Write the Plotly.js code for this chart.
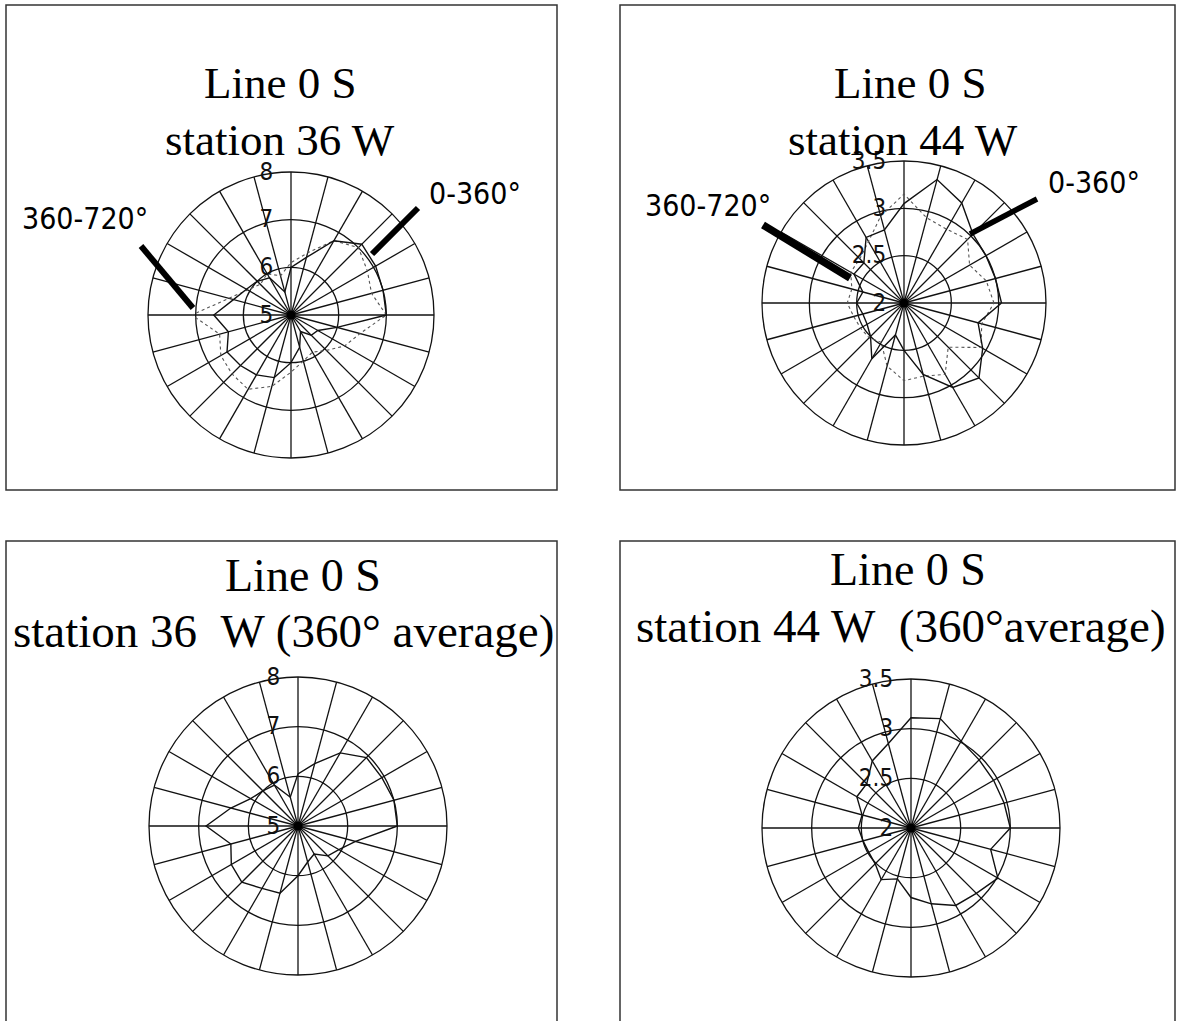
<!DOCTYPE html>
<html>
<head>
<meta charset="utf-8">
<script src="https://cdn.plot.ly/plotly-3.0.1.min.js"></script>
<style>html,body{margin:0;padding:0;background:#fff;}#chart{width:1177px;height:1021px;}</style>
</head>
<body>
<div id="chart"></div>
<script>
// ---------- data ----------
const theta = [0,15,30,45,60,75,90,105,120,135,150,165,180,195,210,225,240,255,270,285,300,315,330,345];

// station 36 W
const st36_0_360   = [7.0,7.0,7.05,7.1,6.8,6.25,6.0,5.5,5.9,6.0,6.08,6.25,6.62,6.36,6.55,6.5,6.45,6.36,6.0,5.7,5.4,5.6,5.65,6.0];
const st36_360_720 = [7.0,6.75,6.85,7.0,6.8,6.35,6.1,5.85,6.0,5.91,6.05,6.35,7.08,6.55,6.7,6.75,6.8,6.55,6.2,6.0,5.9,6.05,6.3,6.5];
const st36_avg     = [7.0,7.0,6.95,6.95,6.7,6.3,6.05,5.6,5.95,6.0,6.1,6.4,6.85,6.4,6.55,6.6,6.45,6.4,6.0,5.75,5.65,5.85,5.95,6.2];

// station 44 W
const st44_0_360   = [3.03,3.0,3.0,3.03,3.22,3.35,3.05,2.8,2.8,2.6,2.61,2.45,2.5,2.45,2.45,2.5,2.68,2.35,2.5,2.78,3.03,3.12,2.96,2.81];
const st44_360_720 = [2.95,2.9,2.8,2.95,2.9,2.93,3.15,2.95,2.75,2.66,2.65,2.57,2.6,2.55,2.53,2.52,2.48,2.69,2.82,2.8,2.87,2.66,2.94,2.85];
const st44_avg     = [3.0,2.97,2.96,2.97,3.01,3.14,3.11,2.88,2.78,2.63,2.63,2.51,2.53,2.5,2.49,2.51,2.6,2.53,2.7,2.79,2.9,2.93,3.01,2.83];

// radial axes
const range36 = [5, 8];
const ticks36 = [5, 6, 7, 8];
const range44 = [2, 3.5];
const ticks44 = [2, 2.5, 3, 3.5];

// text
const titleLine1 = "Line 0 S";
const titles = [
  "station 36 W",
  "station 44 W",
  "station 36\u00a0\u00a0W (360\u00b0 average)",
  "station 44 W\u00a0\u00a0(360\u00b0average)"
];
const seriesLabels = ["0-360\u00b0", "360-720\u00b0"];

// ---------- layout helpers ----------
const W = 1177, H = 1021;
const px = x => x / W;
const py = y => 1 - y / H;
function dom(cx, cy, R) {
  return { x: [px(cx - R), px(cx + R)], y: [py(cy + R), py(cy - R)] };
}
const SANS = "Liberation Sans Narrow, DejaVu Sans Condensed, Arial Narrow, sans-serif";
const SERIF = "Liberation Serif, Times New Roman, serif";

function polarLayout(d, range, ticks) {
  return {
    domain: d,
    bgcolor: "rgba(0,0,0,0)",
    gridshape: "linear",
    angularaxis: {
      rotation: 0, direction: "counterclockwise",
      tickmode: "array", tickvals: theta, showticklabels: false, ticks: "",
      showgrid: true, gridcolor: "#111", gridwidth: 1.3,
      showline: true, linecolor: "#111", linewidth: 1.3
    },
    radialaxis: {
      range: range, tickmode: "array", tickvals: ticks,
      // trailing spaces push the centred label to the left of the axis
      ticktext: ticks.map(v => String(v) + "\u00a0\u00a0"),
      angle: 90, side: "counterclockwise", ticks: "", tickangle: 90,
      showgrid: true, gridcolor: "#111", gridwidth: 1.3,
      showline: false,
      tickfont: { family: SANS, size: 24, color: "#111" }
    }
  };
}

const closeR = a => a.concat([a[0]]);
const closeT = theta.concat([theta[0] + 360]);

const traces = [];
function addLine(r, sub, dash, color, width) {
  traces.push({
    type: "scatterpolar", subplot: sub, mode: "lines",
    r: closeR(r), theta: closeT,
    line: { color: color, width: width, dash: dash },
    hoverinfo: "skip"
  });
}
function addCenter(range, sub) {
  traces.push({
    type: "scatterpolar", subplot: sub, mode: "markers",
    r: [range[0]], theta: [0],
    marker: { color: "#000", size: 9 }, hoverinfo: "skip"
  });
}

addLine(st36_360_720, "polar", "dot", "#555", 1.1);
addLine(st36_0_360, "polar", "solid", "#111", 1.4);
addCenter(range36, "polar");
addLine(st44_360_720, "polar2", "dot", "#555", 1.1);
addLine(st44_0_360, "polar2", "solid", "#111", 1.4);
addCenter(range44, "polar2");
addLine(st36_avg, "polar3", "solid", "#111", 1.4);
addCenter(range36, "polar3");
addLine(st44_avg, "polar4", "solid", "#111", 1.4);
addCenter(range44, "polar4");

// panel frames
const frameLine = { color: "#333", width: 1.5 };
const shapes = [
  { type: "rect", xref: "paper", yref: "paper", x0: px(6), x1: px(557), y0: py(5), y1: py(490), line: frameLine },
  { type: "rect", xref: "paper", yref: "paper", x0: px(620), x1: px(1175), y0: py(5), y1: py(490), line: frameLine },
  { type: "rect", xref: "paper", yref: "paper", x0: px(6), x1: px(557), y0: py(541), y1: py(1040), line: frameLine },
  { type: "rect", xref: "paper", yref: "paper", x0: px(620), x1: px(1175), y0: py(541), y1: py(1040), line: frameLine },
  // pointer bars
  { type: "line", xref: "paper", yref: "paper", x0: px(418), y0: py(208), x1: px(372), y1: py(254), line: { color: "#000", width: 6 } },
  { type: "line", xref: "paper", yref: "paper", x0: px(141), y0: py(246), x1: px(193), y1: py(308), line: { color: "#000", width: 6 } },
  { type: "line", xref: "paper", yref: "paper", x0: px(1037), y0: py(199), x1: px(970), y1: py(234), line: { color: "#000", width: 5.5 } },
  { type: "line", xref: "paper", yref: "paper", x0: px(763), y0: py(225), x1: px(850), y1: py(278), line: { color: "#000", width: 7.5 } }
];

function ann(text, x, y, size, family, xanchor) {
  return { text: text, xref: "paper", yref: "paper", x: px(x), y: py(y),
    xanchor: xanchor || "center", yanchor: "middle", showarrow: false,
    font: { family: family, size: size, color: "#000" } };
}
const annotations = [
  ann(titleLine1, 280, 83, 45, SERIF), ann(titles[0], 280, 140, 45, SERIF),
  ann(titleLine1, 910, 83, 45, SERIF), ann(titles[1], 903, 140, 45, SERIF),
  ann(titleLine1, 303, 575, 46, SERIF), ann(titles[2], 283, 631, 47, SERIF),
  ann(titleLine1, 908, 569, 46, SERIF), ann(titles[3], 901, 626, 47, SERIF),
  ann(seriesLabels[0], 427, 193, 30, SANS, "left"),
  ann(seriesLabels[1], 20, 218, 30, SANS, "left"),
  ann(seriesLabels[0], 1046, 183, 30, SANS, "left"),
  ann(seriesLabels[1], 643, 206, 30, SANS, "left")
];

const layout = {
  width: W, height: H,
  margin: { l: 0, r: 0, t: 0, b: 0 },
  paper_bgcolor: "#fff",
  showlegend: false,
  polar: polarLayout(dom(291, 315, 143), range36, ticks36),
  polar2: polarLayout(dom(904, 303, 142), range44, ticks44),
  polar3: polarLayout(dom(298, 826, 149), range36, ticks36),
  polar4: polarLayout(dom(911, 828, 149), range44, ticks44),
  shapes: shapes,
  annotations: annotations
};

Plotly.newPlot("chart", traces, layout, { staticPlot: true });
</script>
</body>
</html>
